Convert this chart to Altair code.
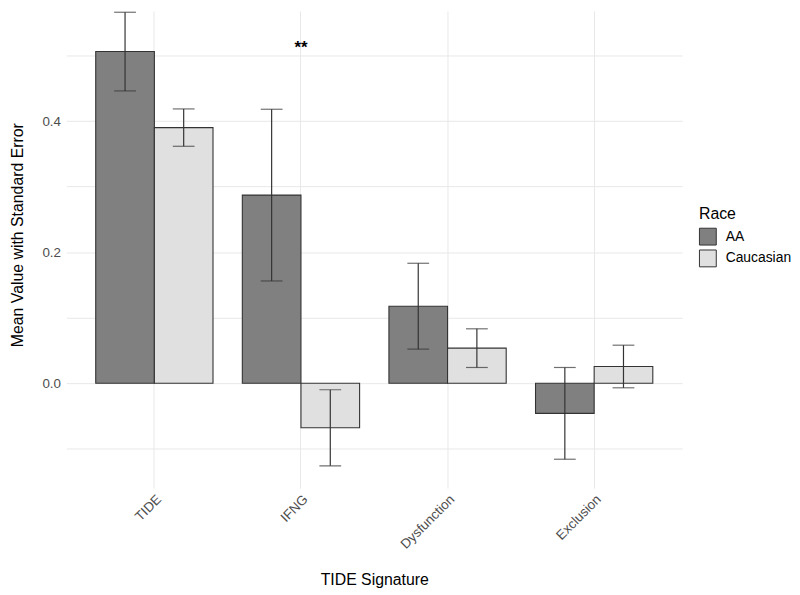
import altair as alt
import pandas as pd

signatures = ["TIDE", "IFNG", "Dysfunction", "Exclusion"]
races = ["AA", "Caucasian"]
aa_mean = [0.506, 0.287, 0.1175, -0.046]
aa_se = [0.060, 0.131, 0.0655, 0.070]
cau_mean = [0.390, -0.068, 0.0535, 0.0255]
cau_se = [0.0285, 0.058, 0.0295, 0.0325]

annot_sig = ["IFNG"]
annot_y = [0.512]
annot_text = ["**"]

y_ticks = [-0.1, 0.0, 0.1, 0.2, 0.3, 0.4, 0.5]

rows = []
for i, s in enumerate(signatures):
    rows.append({"signature": s, "race": "AA", "mean": aa_mean[i],
                 "lo": aa_mean[i] - aa_se[i], "hi": aa_mean[i] + aa_se[i]})
    rows.append({"signature": s, "race": "Caucasian", "mean": cau_mean[i],
                 "lo": cau_mean[i] - cau_se[i], "hi": cau_mean[i] + cau_se[i]})
df = pd.DataFrame(rows)
annot = pd.DataFrame({"signature": annot_sig, "y": annot_y, "label": annot_text})

FONT = "Liberation Sans"
ytitle = "Mean Value with Standard Error"
yscale = alt.Scale(domain=[-0.16, 0.568], nice=False, zero=False)
xscale = alt.Scale(domain=signatures, paddingInner=0.2, paddingOuter=0.2)

xaxis = alt.Axis(
    title="TIDE Signature", labelAngle=315, labelAlign="right", labelBaseline="top",
    labelFontSize=13.5, labelColor="#4d4d4d", labelPadding=4, ticks=False, domain=False,
    grid=True, gridColor="#e8e8e8", gridWidth=1, titleFontSize=16, titleColor="black",
    titleFontWeight="normal", titleY=97, titleBaseline="alphabetic")
yaxis = alt.Axis(
    title=ytitle, values=y_ticks,
    labelExpr="abs(round(datum.value*10)) % 2 == 0 ? format(datum.value, '.1f') : ''",
    grid=True, gridColor="#e8e8e8", gridWidth=1, ticks=False, domain=False,
    labelFontSize=13.5, labelColor="#4d4d4d", labelPadding=6,
    titleFontSize=16, titleColor="black", titleFontWeight="normal",
    titleX=-44, titleY=226, titleAngle=270, titleBaseline="alphabetic", titleAlign="center")

base = alt.Chart(df).encode(
    x=alt.X("signature:N", sort=signatures, scale=xscale, axis=xaxis),
    xOffset=alt.XOffset("race:N", sort=races, scale=alt.Scale(domain=races, paddingInner=0, paddingOuter=0)),
)

bars = base.mark_bar(stroke="#333333", strokeWidth=1.1).encode(
    y=alt.Y("mean:Q", scale=yscale, axis=yaxis, title=ytitle),
    fill=alt.Fill("race:N", scale=alt.Scale(domain=races, range=["#808080", "#e0e0e0"]),
                  legend=alt.Legend(title="Race", orient="none", legendX=639, legendY=197,
                                    symbolType="square", symbolSize=289,
                                    symbolStrokeColor="#333333", symbolStrokeWidth=1,
                                    titleFontSize=16, titleFontWeight="normal", titleColor="black",
                                    labelFontSize=14, labelColor="black", labelOffset=9,
                                    rowPadding=0, titlePadding=6, padding=0)),
)

rule = base.mark_rule(color="#333333", strokeWidth=1.2).encode(
    y=alt.Y("lo:Q", scale=yscale, title=ytitle), y2="hi:Q")
cap_hi = base.mark_tick(color="#333333", thickness=1.2, size=22, orient="horizontal").encode(
    y=alt.Y("hi:Q", scale=yscale, title=ytitle))
cap_lo = base.mark_tick(color="#333333", thickness=1.2, size=22, orient="horizontal").encode(
    y=alt.Y("lo:Q", scale=yscale, title=ytitle))

stars = alt.Chart(annot).mark_text(fontSize=17, fontWeight="bold", color="black", baseline="middle").encode(
    x=alt.X("signature:N", sort=signatures, scale=xscale, axis=xaxis),
    y=alt.Y("y:Q", scale=yscale, title=ytitle),
    text="label:N",
)

chart = alt.layer(bars, rule, cap_hi, cap_lo, stars).properties(
    width=622, height=482, padding={"left": 2, "top": 0, "right": 0, "bottom": 0},
    background="white",
).configure(font=FONT).configure_view(stroke=None)

chart.save("out.html", embed_options={"renderer": "svg", "actions": False})
